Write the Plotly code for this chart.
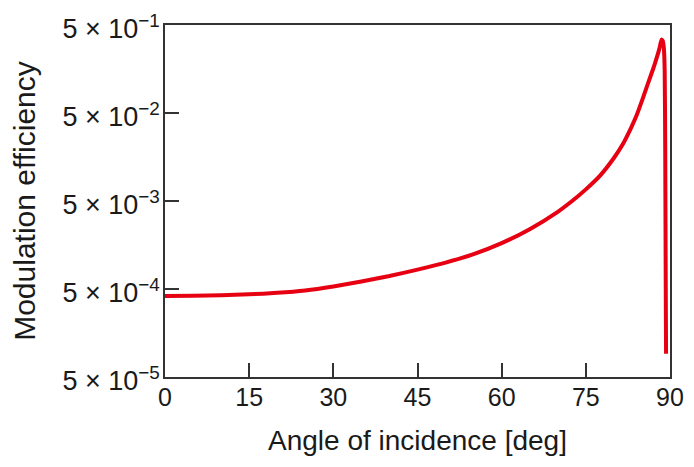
import math
import plotly.graph_objects as go

# Angle of incidence (deg) and modulation efficiency
angle = [0, 5, 10, 15, 20, 25, 30, 35, 40, 45, 50, 55, 60, 65, 70, 72.5, 75,
         77.5, 80, 81.5, 83, 84, 85.2, 86, 87, 87.5, 88, 88.2, 88.5, 88.7,
         88.9, 89.05, 89.15, 89.25, 89.3]
efficiency = [4.17e-4, 4.19e-4, 4.25e-4, 4.35e-4, 4.52e-4, 4.81e-4, 5.34e-4,
              6.08e-4, 7.02e-4, 8.31e-4, 9.98e-4, 1.245e-3, 1.66e-3, 2.39e-3,
              3.77e-3, 4.96e-3, 6.78e-3, 9.65e-3, 1.54e-2, 2.16e-2, 3.33e-2,
              4.61e-2, 7.47e-2, 0.105, 0.159, 0.199, 0.254, 0.286, 0.343, 0.33,
              0.275, 0.155, 1.9e-2, 4.0e-4, 9.2e-5]

x_ticks = [0, 15, 30, 45, 60, 75, 90]
y_ticks = [5e-5, 5e-4, 5e-3, 5e-2, 5e-1]
y_ticktext = ["5 × 10<sup>−5</sup>", "5 × 10<sup>−4</sup>",
              "5 × 10<sup>−3</sup>", "5 × 10<sup>−2</sup>",
              "5 × 10<sup>−1</sup>"]

FONT = "Liberation Sans, Arial"
TXT = "#1a1a1a"

fig = go.Figure()
fig.add_trace(go.Scatter(x=angle, y=efficiency, mode="lines",
                         line=dict(color="#e60012", width=4, shape="spline", smoothing=0.5),
                         showlegend=False, hoverinfo="skip"))

axis_common = dict(showline=True, mirror=True, linecolor="#333333", linewidth=1.5,
                   ticks="inside", ticklen=14, tickwidth=1.5, tickcolor="#333333",
                   showgrid=False, zeroline=False, automargin=False,
                   ticklabeloverflow="allow")

fig.update_xaxes(range=[0, 90], tickvals=x_ticks,
                 tickfont=dict(family=FONT, size=25, color=TXT),
                 title=dict(text="Angle of incidence [deg]", standoff=21,
                            font=dict(family=FONT, size=28, color=TXT)),
                 ticklabelstandoff=-3, **axis_common)
y_range = [math.log10(y_ticks[0]) - 1e-5, math.log10(y_ticks[-1]) + 1e-5]
fig.update_yaxes(type="log", range=y_range, tickvals=y_ticks,
                 ticktext=y_ticktext,
                 tickfont=dict(family=FONT, size=27, color=TXT),
                 title=dict(text="Modulation efficiency", standoff=34,
                            font=dict(family=FONT, size=30, color=TXT)),
                 ticklabelstandoff=-2, ticklabelshift=4, **axis_common)

# page body adds an 8px offset, so the figure is sized to fit inside the window
fig.update_layout(width=686, height=459, paper_bgcolor="white", plot_bgcolor="white",
                  margin=dict(l=157, r=24, t=17, b=90))

fig.write_html("out.html")
